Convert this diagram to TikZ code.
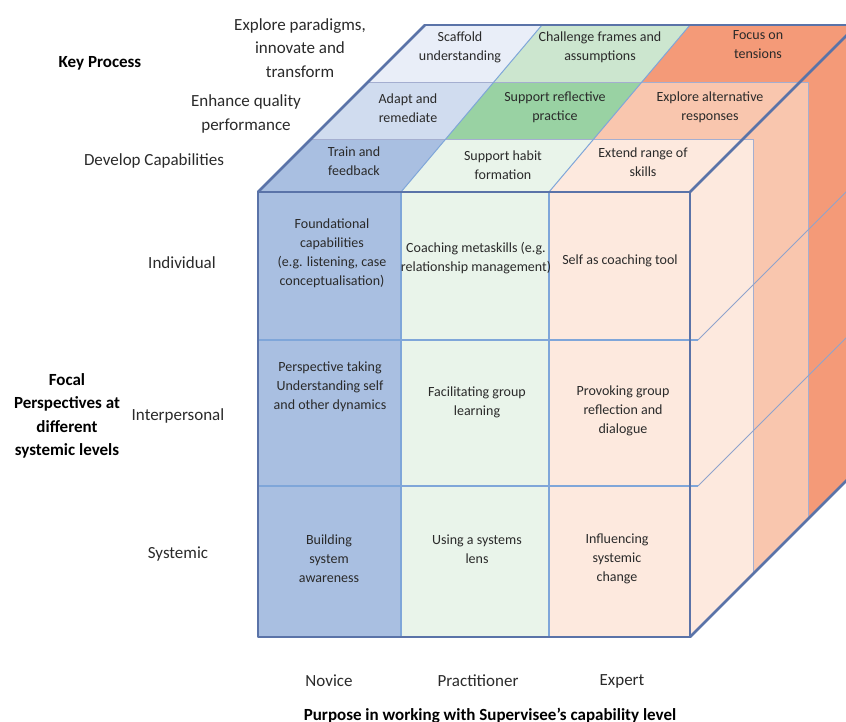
\documentclass[tikz,border=0pt]{standalone}
\usepackage{fontspec}
\setmainfont{Carlito}
\definecolor{blueA}{HTML}{A9BFE1}
\definecolor{blueB}{HTML}{D0DCEF}
\definecolor{blueC}{HTML}{E9EEF8}
\definecolor{greenA}{HTML}{E9F4EA}
\definecolor{greenB}{HTML}{99D2A3}
\definecolor{greenC}{HTML}{CCE6CF}
\definecolor{orA}{HTML}{FDE9DE}
\definecolor{orB}{HTML}{F9C6AE}
\definecolor{orC}{HTML}{F49A78}
\definecolor{outline}{HTML}{5A73A8}
\definecolor{gridline}{HTML}{7FA6D9}
\definecolor{slabline}{HTML}{A4AED0}
\definecolor{sideline}{HTML}{8FA3CC}
\definecolor{txt}{HTML}{2A2A2A}
\newcommand{\cfnt}{\fontsize{14}{19}\selectfont}
\newcommand{\lfnt}{\fontsize{17}{23.5}\selectfont}
\newcommand{\hfnt}{\fontsize{17}{23.5}\selectfont\bfseries}
\begin{document}
\begin{tikzpicture}[x=1pt,y=-1pt,
  cell/.style={align=center,font=\cfnt,text=txt,inner sep=0pt},
  lab/.style={align=center,font=\lfnt,text=txt,inner sep=0pt},
  hd/.style={align=center,font=\hfnt,text=black,inner sep=0pt},
  thickline/.style={draw=outline,line width=2.5pt,line join=round,line cap=round},
  grid/.style={draw=gridline,line width=1.4pt},
  slab/.style={draw=slabline,line width=1pt},
  sidel/.style={draw=sideline,line width=1pt}]
\useasboundingbox (0,0) rectangle (846,722);
% back slab
\fill[blueC] (258,192) -- (425,25) -- (542,25) -- (401,192) -- cycle;
\fill[greenC] (401,192) -- (542,25) -- (690,25) -- (549,192) -- cycle;
\fill[orC] (549,192) -- (690,25) -- (857,25) -- (857,470) -- (690,637) -- (690,192) -- cycle;
% middle slab
\fill[blueB] (258,192) -- (367,83) -- (493,83) -- (401,192) -- cycle;
\fill[greenB] (401,192) -- (493,83) -- (641,83) -- (549,192) -- cycle;
\fill[orB] (549,192) -- (641,83) -- (808,83) -- (808,519) -- (690,637) -- (690,192) -- cycle;
\draw[slab] (367,83) -- (808,83) -- (808,519);
% front slab
\fill[blueA] (258,192) -- (310,140) -- (445,140) -- (401,192) -- cycle;
\fill[greenA] (401,192) -- (445,140) -- (593,140) -- (549,192) -- cycle;
\fill[orA] (549,192) -- (593,140) -- (753,140) -- (753,572) -- (690,637) -- (690,192) -- cycle;
\draw[slab] (310,140) -- (753,140) -- (753,572);
% top dividers
\draw[draw=gridline,line width=1pt] (401,192) -- (542,25);
\draw[draw=gridline,line width=1pt] (549,192) -- (690,25);
% front face
\fill[blueA] (258,192) rectangle (401,637);
\fill[greenA] (401,192) rectangle (549,637);
\fill[orA] (549,192) rectangle (690,637);
\draw[grid] (401,192) -- (401,637);
\draw[grid] (549,192) -- (549,637);
\draw[grid] (258,340) -- (698,340);
\draw[grid] (258,486) -- (698,486);
\draw[sidel] (698,340) -- (857,181);
\draw[sidel] (698,486) -- (857,327);
% outline
\draw[thickline] (258,192) rectangle (690,637);
\draw[thickline] (258,192) -- (425,25);
\draw[draw=outline,line width=1.8pt] (425,25) -- (857,25);
\draw[thickline] (690,192) -- (857,25);
\draw[thickline] (690,637) -- (857,470);
% labels
\node[hd] (kp) at (100,63) {Key Process};
\node[lab] (exp) at (300,48) {Explore paradigms,\\innovate and\\transform};
\node[lab] (enh) at (246,114) {Enhance quality\\performance};
\node[lab] (dev) at (154,161) {Develop Capabilities};
\node[lab] (ind) at (182,263) {Individual};
\node[lab] (inter) at (178,416) {Interpersonal};
\node[lab] (sys) at (178,554) {Systemic};
\node[hd] (focal) at (67,416) {Focal\\Perspectives at\\different\\systemic levels};
\node[lab] (nov) at (329,681) {Novice};
\node[lab] (prac) at (478,681) {Practitioner};
\node[lab] (expt) at (622,681) {Expert};
\node[hd] (purp) at (490,716) {Purpose in working with Supervisee’s capability level};
% top cells
\node[cell] (t1) at (460,47) {Scaffold\\understanding};
\node[cell] (t2) at (600,47) {Challenge frames and\\assumptions};
\node[cell] (t3) at (758,45) {Focus on\\tensions};
\node[cell] (t4) at (408,108) {Adapt and\\remediate};
\node[cell] (t5) at (555,107) {Support reflective\\practice};
\node[cell] (t6) at (710,107) {Explore alternative\\responses};
\node[cell] (t7) at (354,161) {Train and\\feedback};
\node[cell] (t8) at (503,165) {Support habit\\formation};
\node[cell] (t9) at (643,162) {Extend range of\\skills};
% front cells
\node[cell] (f1) at (332,253) {Foundational\\capabilities\\(e.g. listening, case\\conceptualisation)};
\node[cell] (f2) at (476,258) {Coaching metaskills (e.g.\\relationship management)};
\node[cell] (f3) at (620,261) {Self as coaching tool};
\node[cell] (f4) at (330,387) {Perspective taking\\Understanding self\\and other dynamics};
\node[cell] (f5) at (477,402) {Facilitating group\\learning};
\node[cell] (f6) at (623,411) {Provoking group\\reflection and\\dialogue};
\node[cell] (f7) at (329,559) {Building\\system\\awareness};
\node[cell] (f8) at (477,549) {Using a systems\\lens};
\node[cell] (f9) at (617,559) {Influencing\\systemic\\change};
\end{tikzpicture}
\end{document}
